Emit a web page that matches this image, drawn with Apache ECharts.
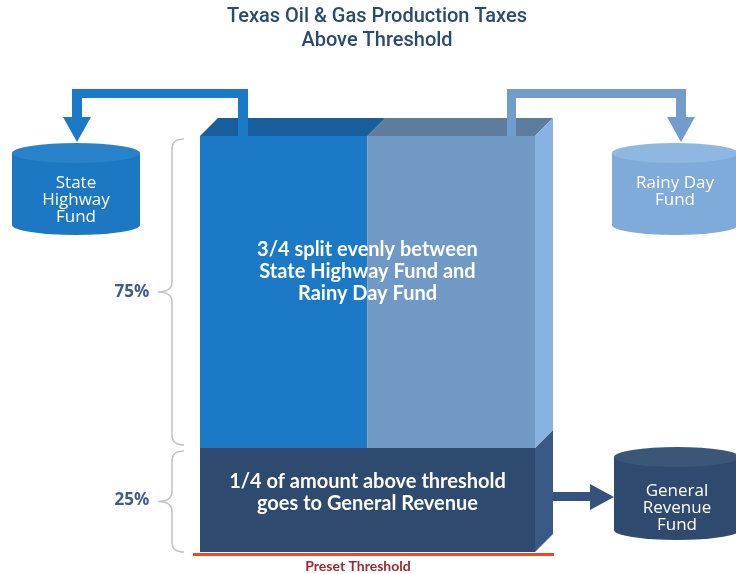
<!DOCTYPE html>
<html>
<head>
<meta charset="utf-8">
<script src="https://cdn.jsdelivr.net/npm/echarts@6/dist/echarts.min.js"></script>
<style>html,body{margin:0;padding:0;background:#fff;}#c{width:736px;height:574px;}</style>
</head>
<body>
<div id="c"></div>
<script>
// ---- data ----
const titleLines = ['Texas Oil & Gas Production Taxes', 'Above Threshold'];
const funds = ['General Revenue Fund', 'State Highway Fund', 'Rainy Day Fund'];
const fundShares = [25, 37.5, 37.5];          // % of amount above threshold
const braceLabels = ['25%', '75%'];
const upperText = '3/4 split evenly between\nState Highway Fund and\nRainy Day Fund';
const lowerText = '1/4 of amount above threshold\ngoes to General Revenue';
const cylinderLabels = ['General\nRevenue\nFund', 'State\nHighway\nFund', 'Rainy Day\nFund'];
const thresholdLabel = 'Preset Threshold';

// ---- styles ----
const frontColors = ['#2E4A6E', '#1B79C5', '#7199C6'];
const topColors = ['#2E4A6E', '#165E9C', '#5E7C9C'];
const sideColors = ['#3A5985', '#88B3E1', '#88B3E1'];
const DEPTH = 18;

// build segments from shares
const upperTotal = fundShares[1] + fundShares[2];
const splitX = fundShares[1] / upperTotal;
const segData = [
  [0, 1, 0, fundShares[0], 0],
  [0, splitX, fundShares[0], fundShares[0] + upperTotal, 1],
  [splitX, 1, fundShares[0], fundShares[0] + upperTotal, 2]
];

const chart = echarts.init(document.getElementById('c'), null, {renderer: 'canvas'});

chart.setOption({
  animation: false,
  grid: {left: 200, top: 136, width: 335, height: 416},
  xAxis: {type: 'value', min: 0, max: 1, show: false},
  yAxis: {type: 'value', min: 0, max: 100, show: false},
  series: [{
    type: 'custom',
    name: 'funds',
    data: segData,
    encode: {x: [0, 1], y: [2, 3]},
    z: 2,
    renderItem: function (params, api) {
      const x0 = api.value(0), x1 = api.value(1), y0 = api.value(2), y1 = api.value(3), i = api.value(4);
      const a = api.coord([x0, y1]), b = api.coord([x1, y0]);
      const children = [{
        type: 'rect',
        shape: {x: a[0], y: a[1], width: b[0] - a[0], height: b[1] - a[1]},
        style: {fill: frontColors[i]}
      }];
      if (y1 >= 100) {
        children.push({
          type: 'polygon',
          shape: {points: [[a[0], a[1]], [b[0], a[1]], [b[0] + DEPTH, a[1] - DEPTH], [a[0] + DEPTH, a[1] - DEPTH]]},
          style: {fill: topColors[i]}
        });
      }
      if (x1 >= 1) {
        children.push({
          type: 'polygon',
          shape: {points: [[b[0], a[1]], [b[0] + DEPTH, a[1] - DEPTH], [b[0] + DEPTH, b[1] - DEPTH], [b[0], b[1]]]},
          style: {fill: sideColors[i]}
        });
      }
      return {type: 'group', children: children};
    }
  }]
});

// positions derived from data
const px = (x, y) => chart.convertToPixel({gridIndex: 0}, [x, y]);
const pBottomLeft = px(0, 0);
const pBottomRight = px(1, 0);
const pSplit = px(0, fundShares[0]);
const pTop = px(0, 100);
const barTop = pTop[1], barBottom = pBottomLeft[1], splitY = pSplit[1];
const barLeft = pBottomLeft[0], barRight = pBottomRight[0];

function brace(y0, y1) {
  const xr = 184, xs = 172, xp = 158, mid = (y0 + y1) / 2, r = 10;
  return {
    type: 'path',
    shape: {pathData:
      'M' + xr + ' ' + y0 + ' Q' + xs + ' ' + y0 + ' ' + xs + ' ' + (y0 + r) +
      ' L' + xs + ' ' + (mid - r) + ' Q' + xs + ' ' + mid + ' ' + xp + ' ' + mid +
      ' Q' + xs + ' ' + mid + ' ' + xs + ' ' + (mid + r) +
      ' L' + xs + ' ' + (y1 - r) + ' Q' + xs + ' ' + y1 + ' ' + xr + ' ' + y1},
    style: {fill: 'none', stroke: '#C4C4C4', lineWidth: 1.6}
  };
}

function ellipsePath(cx, cy, rx, ry) {
  return 'M' + (cx - rx) + ' ' + cy +
    ' A' + rx + ' ' + ry + ' 0 1 0 ' + (cx + rx) + ' ' + cy +
    ' A' + rx + ' ' + ry + ' 0 1 0 ' + (cx - rx) + ' ' + cy + ' Z';
}

function cylinder(cx, rx, topCy, botCy, ry, body, topFill, label, labelY) {
  const bodyPath = 'M' + (cx - rx) + ' ' + topCy + ' L' + (cx - rx) + ' ' + botCy +
    ' A' + rx + ' ' + ry + ' 0 0 0 ' + (cx + rx) + ' ' + botCy +
    ' L' + (cx + rx) + ' ' + topCy + ' Z';
  return [
    {type: 'path', shape: {pathData: bodyPath}, style: {fill: body}},
    {type: 'path', shape: {pathData: ellipsePath(cx, topCy, rx, ry)}, style: {fill: topFill}},
    {type: 'text', style: {text: label, x: cx, y: labelY, align: 'center', verticalAlign: 'middle',
      fontFamily: 'Open Sans', fontSize: 17, lineHeight: 17, fill: '#FFFFFF'}}
  ];
}

function rect(x, y, w, h, fill) {
  return {type: 'rect', shape: {x: x, y: y, width: w, height: h}, style: {fill: fill}};
}

const leftArrowColor = '#1B79C5';
const rightArrowColor = '#729CCB';
const lowArrowColor = '#34527B';
const sideRight = barRight + DEPTH;
const lowMid = (splitY + barBottom) / 2 - 4;

const g = [];
// title
g.push({type: 'text', style: {text: titleLines.join('\n'), x: 377, y: 5, align: 'center', verticalAlign: 'top',
  fontFamily: 'Roboto', fontWeight: 500, fontSize: 20, lineHeight: 24, fill: '#2A4A72'}});
// braces
g.push(brace(barTop + 3, splitY - 3));
g.push(brace(splitY + 3, barBottom));
g.push({type: 'text', style: {text: braceLabels[1], x: 132, y: (barTop + splitY) / 2, align: 'center', verticalAlign: 'middle',
  fontFamily: 'Open Sans', fontWeight: 'bold', fontSize: 17, fill: '#3E5E86'}});
g.push({type: 'text', style: {text: braceLabels[0], x: 132, y: (splitY + barBottom) / 2, align: 'center', verticalAlign: 'middle',
  fontFamily: 'Open Sans', fontWeight: 'bold', fontSize: 17, fill: '#3E5E86'}});
// cylinders
cylinder(76, 64, 153, 225, 10, '#1C78C3', '#2A83CA', cylinderLabels[1], 200).forEach(e => g.push(e));
cylinder(675, 63, 153, 225, 10, '#7EABDA', '#8EB7E2', cylinderLabels[2], 192).forEach(e => g.push(e));
cylinder(677, 63, 457, 530, 10, '#2E4A6E', '#3B5778', cylinderLabels[0], 508).forEach(e => g.push(e));
// left arrow
g.push(rect(238, 89, 10, barTop - 89, leftArrowColor));
g.push(rect(72, 89, 176, 9, leftArrowColor));
g.push(rect(72, 89, 10, 30, leftArrowColor));
g.push({type: 'polygon', shape: {points: [[63, 117], [91, 117], [77, 142]]}, style: {fill: leftArrowColor}});
// right arrow
g.push(rect(507, 89, 9, barTop - 89, rightArrowColor));
g.push(rect(507, 89, 179, 9, rightArrowColor));
g.push(rect(676, 89, 10, 30, rightArrowColor));
g.push({type: 'polygon', shape: {points: [[667, 117], [695, 117], [681, 142]]}, style: {fill: rightArrowColor}});
// lower arrow
g.push(rect(sideRight, lowMid - 4, 592 - sideRight, 9, lowArrowColor));
g.push({type: 'polygon', shape: {points: [[590, lowMid - 12], [590, lowMid + 14], [614, lowMid + 1]]}, style: {fill: lowArrowColor}});
// bar texts
g.push({type: 'text', style: {text: upperText, x: (barLeft + barRight) / 2, y: 272, align: 'center', verticalAlign: 'middle',
  fontFamily: 'Lato', fontWeight: 'bold', fontSize: 20, lineHeight: 22, fill: '#FFFFFF'}});
g.push({type: 'text', style: {text: lowerText, x: (barLeft + barRight) / 2, y: 493, align: 'center', verticalAlign: 'middle',
  fontFamily: 'Lato', fontWeight: 'bold', fontSize: 20, lineHeight: 22, fill: '#FFFFFF'}});
// threshold line
g.push(rect(barLeft - 7, barBottom + 1, sideRight - barLeft + 8, 3, '#EA4A2A'));
g.push({type: 'text', style: {text: thresholdLabel, x: 358, y: 566, align: 'center', verticalAlign: 'middle',
  fontFamily: 'Lato', fontWeight: 'bold', fontSize: 14, fill: '#A0282C'}});

chart.setOption({
  series: [{}, {
    type: 'custom',
    name: 'decorations',
    coordinateSystem: 'none',
    silent: true,
    z: 5,
    data: [[0]],
    renderItem: function () {
      return {type: 'group', children: g};
    }
  }]
});
</script>
</body>
</html>
